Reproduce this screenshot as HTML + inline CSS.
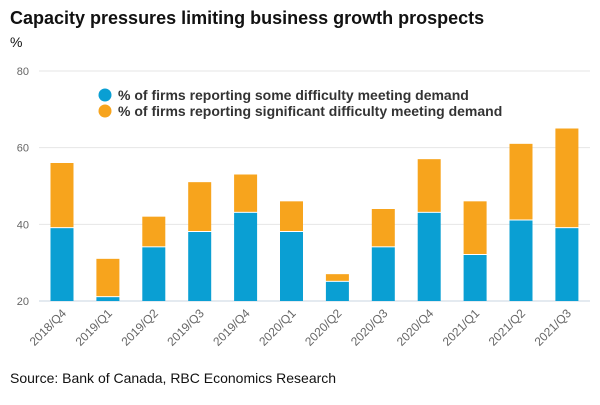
<!DOCTYPE html>
<html><head><style>
body{margin:0;background:#fff;font-family:"Liberation Sans",sans-serif}
</style></head><body>
<svg width="600" height="400" font-family="Liberation Sans, sans-serif">
<text x="10" y="24" font-size="18" font-weight="bold" fill="#111">Capacity pressures limiting business growth prospects</text>
<text x="10" y="47" font-size="14" fill="#111">%</text>
<g id="grid"></g>
<g id="bars"></g>
<g id="xlabels"></g>
<g>
<circle cx="105" cy="95" r="6.5" fill="#0a9fd3"/>
<text x="118" y="100" font-size="14" font-weight="bold" fill="#333">% of firms reporting some difficulty meeting demand</text>
<circle cx="105" cy="111" r="6.5" fill="#f7a41d"/>
<text x="118" y="116" font-size="14" font-weight="bold" fill="#333">% of firms reporting significant difficulty meeting demand</text>
</g>
<text x="10" y="383" font-size="14" fill="#111">Source: Bank of Canada, RBC Economics Research</text>
<script>
const categories=["2018/Q4","2019/Q1","2019/Q2","2019/Q3","2019/Q4","2020/Q1","2020/Q2","2020/Q3","2020/Q4","2021/Q1","2021/Q2","2021/Q3"];
const someValues=[39,21,34,38,43,38,25,34,43,32,41,39];
const totalValues=[56,31,42,51,53,46,27,44,57,46,61,65];
const yTicks=[20,40,60,80];
const NS="http://www.w3.org/2000/svg";
const y=v=>301-(v-20)*(230/60);
const x=i=>62+i*45.9;
const bw=23;
function mk(t,a,p){const e=document.createElementNS(NS,t);for(const k in a)e.setAttribute(k,a[k]);p.appendChild(e);return e;}
const g=document.getElementById('grid');
yTicks.forEach(t=>{
 const l=mk('line',{x1:39,x2:590,y1:y(t),y2:y(t),stroke:t==20?'#c8d4e0':'#e6e6e6','stroke-width':1},g);
 
 
 const tx=mk('text',{x:29,y:y(t)+4,'font-size':11,fill:'#666','text-anchor':'end'},g);
 tx.textContent=t;
 
 
});
const b=document.getElementById('bars'),xl=document.getElementById('xlabels');
categories.forEach((c,i)=>{
 const cx=x(i);
 const r1=mk('rect',{x:cx-bw/2,y:y(someValues[i]),width:bw,height:y(20)-y(someValues[i]),fill:'#0a9fd3'},b);
 
 
 const r2=mk('rect',{x:cx-bw/2,y:y(totalValues[i]),width:bw,height:Math.max(0,y(someValues[i])-y(totalValues[i])-1),fill:'#f7a41d'},b);
 
 
 const tx0=cx+5,ty0=314;
 const t=mk('text',{x:tx0,y:ty0,'font-size':12,fill:'#666','text-anchor':'end',transform:`rotate(-45 ${tx0} ${ty0})`},xl);
 t.textContent=c;
 
 
});
</script>
</svg>
</body></html>
